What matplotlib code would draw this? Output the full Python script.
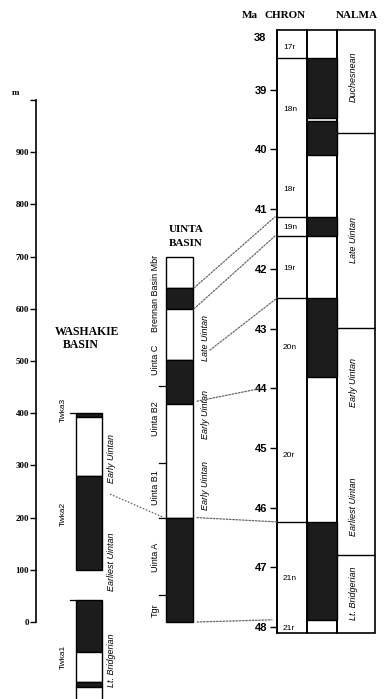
import matplotlib.pyplot as plt
from matplotlib.patches import Rectangle, ConnectionPatch

# Washakie Basin section (m)
wash_tops = [400, 393, 280, 42, -57, -115, -125]
wash_bottoms = [393, 280, 100, -57, -115, -125, -160]
wash_black = [1, 0, 1, 1, 0, 1, 0]
wash_units = ['Twka3', 'Twka2', 'Twka1']
wash_unit_pos = [406, 207, -67]
wash_ticks = [400, 42]
wash_ages = ['Early Uintan', 'Earliest Uintan', 'Lt. Bridgerian']
wash_age_pos = [314, 115, -73]

# Uinta Basin section (m)
uinta_tops = [700, 640, 600, 502, 418, 200]
uinta_bottoms = [640, 600, 502, 418, 200, 0]
uinta_black = [0, 1, 0, 1, 0, 1]
uinta_units = ['Brennan Basin Mbr', 'Uinta C', 'Uinta B2', 'Uinta B1', 'Uinta A', 'Tgr']
uinta_unit_pos = [630, 502, 389, 257, 123, 23]
uinta_ticks = [452, 305, 200, 52]
uinta_ages = ['Late Uintan', 'Early Uintan', 'Early Uintan']
uinta_age_pos = [544, 397, 262]

# polarity time scale (Ma)
ma_ticks = [39, 40, 41, 42, 43, 44, 45, 46, 47, 48]
chron_names = ['17r', '18n', '18r', '19n', '19r', '20n', '20r', '21n', '21r']
chron_label_pos = [38.30, 39.34, 40.68, 41.30, 41.99, 43.31, 45.12, 47.18, 48.02]
chron_bounds = [38.47, 41.13, 41.45, 42.49, 46.24]
normal_tops = [38.47, 39.52, 41.13, 42.49, 46.24]
normal_bottoms = [39.47, 40.09, 41.45, 43.81, 47.88]
nalma_names = ['Duchesnean', 'Late Uintan', 'Early Uintan', 'Earliest Uintan', 'Lt. Bridgerian']
nalma_label_pos = [38.79, 41.52, 43.91, 45.99, 47.43]
nalma_bounds = [39.73, 42.99, 46.8]
ma_top, ma_bottom = 38.0, 48.1

# tie lines Uinta (m) -> time scale (Ma)
tie_m = [640, 600, 521, 423, 200, 0]
tie_ma = [41.13, 41.45, 42.49, 44.0, 46.24, 47.88]
tie_x0 = [194, 194, 210, 197, 197, 197]
tie_x1 = [275, 275, 277, 262, 277, 272]
# Washakie -> Uinta tie
wu_m = [245, 200]

serif = 'Liberation Serif'
sans = 'Liberation Sans'
dot = (0, (1.3, 1.3))

fig = plt.figure(figsize=(3.84, 6.99), dpi=100)
ax = fig.add_axes([0, 0, 1, 1])
ax.set_xlim(0, 384)
ax.set_ylim(-147.5, 1191.6)
ax2 = fig.add_axes([0, 0, 1, 1])
ax2.set_xlim(0, 384)
ax2.set_ylim(49.206, 37.4975)
ax2.patch.set_alpha(0)

for a in (ax, ax2):
    for s in ['top', 'right', 'bottom']:
        a.spines[s].set_visible(False)
    a.set_xticks([])

# meter axis
ax.spines['left'].set_position(('data', 36))
ax.spines['left'].set_bounds(0, 1000)
ax.spines['left'].set_linewidth(1.2)
mt = list(range(0, 1001, 100))
ax.set_yticks(mt)
ax.set_yticklabels([str(v) if v < 1000 else '' for v in mt], fontsize=6.5, family=serif, fontweight='bold')
ax.tick_params(axis='y', length=4, width=1, pad=1)
ax.text(16, 1013, 'm', fontsize=6.5, family=serif, fontweight='bold', ha='center', va='center')

# Washakie column
for t, b, k in zip(wash_tops, wash_bottoms, wash_black):
    ax.add_patch(Rectangle((76, b), 26, t - b, facecolor='#1c1c1c' if k else 'white',
                           edgecolor='black', lw=1))
for m in wash_ticks:
    ax.plot([70, 76], [m, m], color='black', lw=0.9)
for name, m in zip(wash_units, wash_unit_pos):
    ax.text(63, m, name, rotation=90, fontsize=6, family=sans, ha='center', va='center')
for name, m in zip(wash_ages, wash_age_pos):
    ax.text(111, m, name, rotation=90, fontsize=6.5, family=sans, style='italic', ha='center', va='center')
ax.text(55, 556, 'WASHAKIE', fontsize=8.5, family=serif, fontweight='bold', ha='left', va='center')
ax.text(63, 531, 'BASIN', fontsize=8.5, family=serif, fontweight='bold', ha='left', va='center')

# Uinta column
for t, b, k in zip(uinta_tops, uinta_bottoms, uinta_black):
    ax.add_patch(Rectangle((166, b), 27, t - b, facecolor='#1c1c1c' if k else 'white',
                           edgecolor='black', lw=1))
for m in uinta_ticks:
    ax.plot([159, 166], [m, m], color='black', lw=0.9)
for name, m in zip(uinta_units, uinta_unit_pos):
    ax.text(155, m, name, rotation=90, fontsize=6.5, family=sans, ha='center', va='center')
for name, m in zip(uinta_ages, uinta_age_pos):
    ax.text(206, m, name, rotation=90, fontsize=6.5, family=sans, style='italic', ha='center', va='center')
ax.text(186, 751, 'UINTA', fontsize=8, family=serif, fontweight='bold', ha='center', va='center')
ax.text(186, 726, 'BASIN', fontsize=8, family=serif, fontweight='bold', ha='center', va='center')

# time scale axis
ax2.spines['left'].set_position(('data', 277))
ax2.spines['left'].set_bounds(ma_top, ma_bottom)
ax2.spines['left'].set_linewidth(1.2)
ax2.set_yticks(ma_ticks)
ax2.set_yticklabels([str(v) for v in ma_ticks], fontsize=8, family=sans, fontweight='bold')
ax2.tick_params(axis='y', length=5, width=1, pad=2)
ax2.text(266, 38.13, '38', fontsize=8, family=sans, fontweight='bold', ha='right', va='center')

ax2.add_patch(Rectangle((277, ma_top), 30, ma_bottom - ma_top, fill=False, edgecolor='black', lw=1.2))
ax2.add_patch(Rectangle((307, ma_top), 30, ma_bottom - ma_top, fill=False, edgecolor='black', lw=1.2))
ax2.add_patch(Rectangle((337, ma_top), 38, ma_bottom - ma_top, fill=False, edgecolor='black', lw=1.2))
ax2.hlines(chron_bounds, 277, 307, color='black', lw=1)
ax2.hlines(nalma_bounds, 337, 375, color='black', lw=1)
for t, b in zip(normal_tops, normal_bottoms):
    ax2.add_patch(Rectangle((307, t), 30, b - t, facecolor='#1c1c1c', edgecolor='black', lw=1))
for name, y in zip(chron_names, chron_label_pos):
    ax2.text(283, y, name, fontsize=6, family=sans, ha='left', va='center')
for name, y in zip(nalma_names, nalma_label_pos):
    ax2.text(353, y, name, rotation=90, fontsize=6.5, family=sans, style='italic', ha='center', va='center')

ax2.text(250, 37.75, 'Ma', fontsize=8, family=serif, fontweight='bold', ha='center', va='center')
ax2.text(285, 37.75, 'CHRON', fontsize=8, family=serif, fontweight='bold', ha='center', va='center')
ax2.text(357, 37.75, 'NALMA', fontsize=8, family=serif, fontweight='bold', ha='center', va='center')

# tie lines
for m, ma, x0, x1 in zip(tie_m, tie_ma, tie_x0, tie_x1):
    con = ConnectionPatch(xyA=(x0, m), coordsA=ax.transData, xyB=(x1, ma), coordsB=ax2.transData,
                          color='0.4', lw=0.9, linestyle=dot)
    fig.add_artist(con)
ax.plot([110, 164], wu_m, color='0.4', lw=0.9, linestyle=dot)

fig.savefig('out.png', dpi=100)
